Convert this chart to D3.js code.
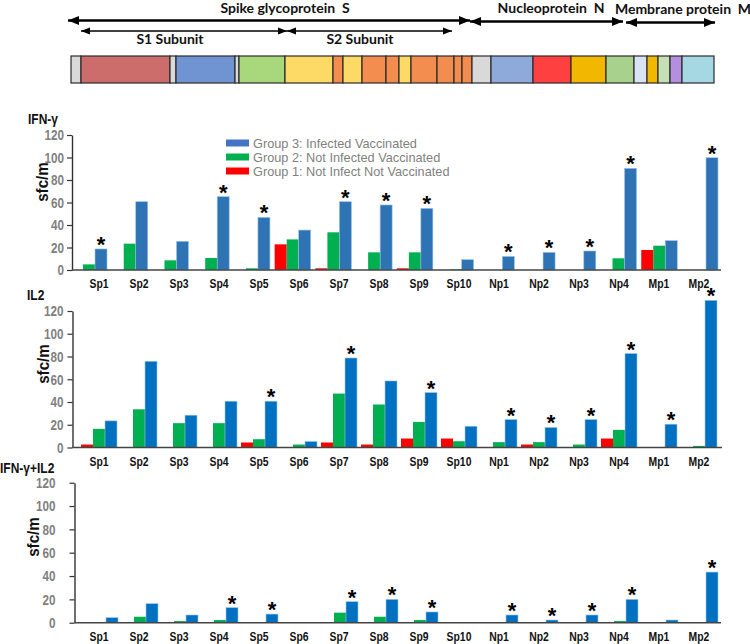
<!DOCTYPE html>
<html>
<head>
<meta charset="utf-8">
<script src="https://cdn.jsdelivr.net/npm/d3@7"></script>
<style>
  html, body { margin: 0; padding: 0; background: #fff; }
  svg { display: block; }
  text { white-space: pre; }
</style>
</head>
<body>
<svg id="chart" width="750" height="644"></svg>
<script>
// ---------------- DATA ----------------
const categories = ["Sp1","Sp2","Sp3","Sp4","Sp5","Sp6","Sp7","Sp8","Sp9","Sp10","Np1","Np2","Np3","Np4","Mp1","Mp2"];
const groupNames = ["Group 1: Not Infect Not Vaccinated","Group 2: Not Infected Vaccinated","Group 3: Infected Vaccinated"];
const yTicks = [0, 20, 40, 60, 80, 100, 120];

// IFN-γ (sfc/m)
const ifnG1 = [0, 0, 0, 0, 0, 22.8, 1.5, 0, 1.5, 0, 0, 0, 0, 0, 17.8, 0];
const ifnG2 = [5, 23.4, 8.6, 10.7, 1.5, 27.2, 33.5, 15.7, 15.7, 0.6, 0, 0, 0, 10.4, 21.6, 0];
const ifnG3 = [18.7, 60.7, 25.5, 65.2, 46.8, 35.5, 60.7, 57.8, 54.8, 9.2, 12.1, 15.7, 16.9, 90.4, 26.1, 99.8];
const ifnStar = [1, 0, 0, 1, 1, 0, 1, 1, 1, 0, 1, 1, 1, 1, 0, 1];

// IL2 (sfc/m)
const il2G1 = [2.6, 0, 0, 0, 4.4, 0, 4.4, 2.6, 7.9, 7.9, 0, 2.6, 0, 7.9, 0, 0];
const il2G2 = [16.4, 33.6, 21.4, 21.4, 7.3, 2.6, 47.4, 37.8, 22.5, 5.5, 4.7, 4.7, 2.6, 15.5, 0, 1.4];
const il2G3 = [23.4, 75.8, 28.4, 40.7, 40.7, 5.3, 78.7, 58.5, 48.3, 18.7, 24.6, 17.6, 24.6, 82.6, 20.5, 129.4];
const il2Star = [0, 0, 0, 0, 1, 0, 1, 0, 1, 0, 1, 1, 1, 1, 1, 1];

// IFN-γ + IL2 (sfc/m)
const bothG1 = [0, 0, 0, 0, 0, 0, 0, 0, 0, 0, 0, 0, 0, 0, 0, 0];
const bothG2 = [0, 5.1, 1.4, 2.3, 0, 0, 8.6, 5.1, 2.3, 0, 0, 0, 0, 1.4, 0, 0];
const bothG3 = [4.3, 16.3, 6.6, 12.9, 7.4, 0, 18, 20, 9.2, 0, 6.6, 2.3, 6.6, 20, 2.3, 43.4];
const bothStar = [0, 0, 0, 1, 1, 0, 1, 1, 1, 0, 1, 1, 1, 1, 0, 1];

// Genome map (segment lengths in map units)
const segLengths = [10, 89, 6, 59, 4, 46, 48, 10, 19, 24, 13, 12, 26, 17, 8, 10, 19, 42, 38, 35, 28, 13, 11, 12, 12, 32];
const segColors  = ["#d9d9d9","#cc6d6b","#d9d9d9","#7094d2","#d9d9d9","#a9d77c","#fdd966","#f38d4f","#fdd966","#f38d4f","#f38d4f","#fdd966","#f38d4f","#f38d4f","#f38d4f","#f38d4f","#d9d9d9","#8eaadb","#ff4040","#f2b800","#a9d18e","#dae3f3","#f2b800","#c5e0b4","#b48fe0","#a5d8e2"];
// Region arrows in map units [start, end]
const regionNames = ["Spike glycoprotein  S", "S1 Subunit", "S2 Subunit", "Nucleoprotein  N", "Membrane protein  M"];
const regionStart = [-3, 10, 216, 399, 555];
const regionEnd   = [399, 216, 381, 552, 644];

// ---------------- DRAW ----------------
const svg = d3.select("#chart");
const sans = "'Liberation Sans', Arial, sans-serif";
const colors = ["#ff0000", "#00b050", "#2e75b6"];

// place a horizontally condensed text
function squeezed(sel, x, y, sx) {
  return sel.attr("x", 0).attr("y", 0)
    .attr("transform", `translate(${x},${y}) scale(${sx},1)`);
}

// defs: arrow heads
const defs = svg.append("defs");
function marker(id, orient, size) {
  defs.append("marker")
    .attr("id", id).attr("viewBox", "0 0 10 10")
    .attr("refX", 10).attr("refY", 5)
    .attr("markerWidth", size).attr("markerHeight", size)
    .attr("markerUnits", "userSpaceOnUse")
    .attr("orient", orient)
    .append("path").attr("d", "M0,1 L10,5 L0,9 Z").attr("fill", "#000");
}
marker("arrowEndBig", "auto", 11);
marker("arrowStartBig", "auto-start-reverse", 11);
marker("arrowEndSm", "auto", 9);
marker("arrowStartSm", "auto-start-reverse", 9);

// ---- Genome map ----
const total = d3.sum(segLengths);
const mapX = d3.scaleLinear().domain([0, total]).range([71, 714]);
const cum = d3.cumsum(segLengths);
const segStarts = segLengths.map((d, i) => cum[i] - d);
svg.append("g").selectAll("rect").data(segLengths).join("rect")
  .attr("x", (d, i) => mapX(segStarts[i]))
  .attr("y", 56)
  .attr("width", d => mapX(d) - mapX(0))
  .attr("height", 27)
  .attr("fill", (d, i) => segColors[i])
  .attr("stroke", "#2b2b2b").attr("stroke-width", 1.2);

const regionY = [20.5, 31, 31, 21.5, 22.5];
const regionTextY = [13, 44, 44, 13, 13.5];
const regionBig = [true, false, false, true, true];
const gReg = svg.append("g");
regionNames.forEach((name, i) => {
  const x0 = mapX(regionStart[i]), x1 = mapX(regionEnd[i]);
  gReg.append("line")
    .attr("x1", x0).attr("x2", x1).attr("y1", regionY[i]).attr("y2", regionY[i])
    .attr("stroke", "#000").attr("stroke-width", regionBig[i] ? 2.6 : 1.4)
    .attr("marker-start", regionBig[i] ? "url(#arrowStartBig)" : "url(#arrowStartSm)")
    .attr("marker-end", regionBig[i] ? "url(#arrowEndBig)" : "url(#arrowEndSm)");
});
const textX = [285, 170, 360, 551, 683];
gReg.selectAll("text").data(regionNames).join("text")
  .attr("x", (d, i) => textX[i])
  .attr("y", (d, i) => regionTextY[i])
  .attr("text-anchor", "middle")
  .attr("font-family", "Lato, 'Open Sans', sans-serif")
  .attr("font-weight", "bold")
  .attr("font-size", 14)
  .attr("fill", "#111")
  .text(d => d);

// ---- Bar panels ----
const panels = [
  { title: "IFN-γ", g: [ifnG1, ifnG2, ifnG3], star: ifnStar, y0: 270, y1: 135, axisX: 72, barRange: [71, 718], baseEnd: 721,
    titleX: 28, titleY: 124, sfcX: 42, sfcY: 182, labelY: 288, tickPad: 3, blue: "#2e74b5" },
  { title: "IL2", g: [il2G1, il2G2, il2G3], star: il2Star, y0: 447.5, y1: 311, axisX: 72.5, barRange: [81, 717], baseEnd: 722,
    titleX: 27, titleY: 300, sfcX: 43, sfcY: 364, labelY: 466, tickPad: 4, blue: "#0070c0" },
  { title: "IFN-γ+IL2", g: [bothG1, bothG2, bothG3], star: bothStar, y0: 622.7, y1: 482.7, axisX: 74.5, barRange: [82, 718], baseEnd: 721,
    titleX: 0, titleY: 473, sfcX: 33, sfcY: 537, labelY: 641, tickPad: 14, blue: "#0070c0" }
];

const labelScale = d3.scaleBand().domain(categories).range([81, 717]).paddingInner(0.1).paddingOuter(0);
const tickSx = 0.78;

panels.forEach((p, pi) => {
  const g = svg.append("g");
  const y = d3.scaleLinear().domain([0, 120]).range([p.y0, p.y1]);
  const x = d3.scaleBand().domain(categories).range(p.barRange)
    .paddingInner(pi === 0 ? 0.116 : 0.1).paddingOuter(0);
  const xs = d3.scaleBand().domain([0, 1, 2]).range([0, x.bandwidth()]).padding(0);
  const cols = [colors[0], colors[1], p.blue];

  // bars
  [0, 1, 2].forEach(k => {
    g.append("g").selectAll("rect").data(p.g[k]).join("rect")
      .attr("x", (d, i) => x(categories[i]) + xs(k))
      .attr("y", d => y(d))
      .attr("width", xs.bandwidth())
      .attr("height", d => p.y0 - y(d))
      .attr("fill", cols[k])
      .attr("stroke", k === 2 ? "#9dc3e6" : "none")
      .attr("stroke-width", k === 2 ? 0.6 : 0);
  });

  // y axis
  const tickSize = 5;
  const ax = g.append("g").attr("transform", `translate(${p.axisX},0)`)
    .call(d3.axisLeft(y).tickValues(yTicks).tickSize(tickSize).tickSizeOuter(0).tickPadding(p.tickPad));
  ax.select(".domain").attr("stroke", "#333").attr("stroke-width", 1.4);
  ax.selectAll(".tick line").attr("stroke", "#333").attr("stroke-width", 1.2);
  ax.selectAll(".tick text")
    .attr("font-family", sans).attr("font-weight", "bold").attr("font-size", 15)
    .attr("fill", "#808080")
    .attr("x", -(tickSize + p.tickPad) / tickSx)
    .attr("transform", `scale(${tickSx},1)`);

  // baseline
  g.append("line").attr("x1", p.axisX).attr("x2", p.baseEnd)
    .attr("y1", p.y0).attr("y2", p.y0).attr("stroke", "#444").attr("stroke-width", 1.6);

  // stars
  g.append("g").selectAll("text")
    .data(categories.map((c, i) => ({ c, i })).filter(d => p.star[d.i] === 1))
    .join("text")
    .attr("x", d => x(d.c) + xs(2) + xs.bandwidth() / 2)
    .attr("y", d => y(p.g[2][d.i]) + 3)
    .attr("text-anchor", "middle")
    .attr("font-family", sans)
    .attr("font-weight", "bold")
    .attr("font-size", 22)
    .attr("fill", "#000")
    .text("*");

  // category labels
  g.append("g").selectAll("text").data(categories).join("text")
    .each(function(d) {
      squeezed(d3.select(this), labelScale(d) + labelScale.bandwidth() / 2, p.labelY, 0.8);
    })
    .attr("text-anchor", "middle")
    .attr("font-family", sans).attr("font-weight", "bold").attr("font-size", 13)
    .attr("fill", "#111")
    .text(d => d);

  // title
  squeezed(g.append("text"), p.titleX, p.titleY, 0.8)
    .attr("font-family", sans).attr("font-weight", "bold").attr("font-size", 15)
    .attr("fill", "#111").text(p.title);

  // sfc/m
  g.append("text")
    .attr("transform", `translate(${p.sfcX + 6},${p.sfcY}) rotate(-90) scale(0.95,1)`)
    .attr("text-anchor", "middle")
    .attr("font-family", sans).attr("font-weight", "bold").attr("font-size", 16)
    .attr("fill", "#111").text("sfc/m");
});

// ---- Legend ----
const legendOrder = [2, 1, 0];
const legendBlue = "#4472c4";
const leg = svg.append("g");
legendOrder.forEach((k, j) => {
  const yy = [139.5, 153.5, 167.5][j];
  leg.append("rect").attr("x", 226).attr("y", yy).attr("width", 23).attr("height", 7)
    .attr("fill", k === 2 ? legendBlue : colors[k]);
  squeezed(leg.append("text"), 253, yy + 8, 0.98)
    .attr("font-family", sans).attr("font-size", 13).attr("fill", "#7f7f7f")
    .text(groupNames[k]);
});
</script>
</body>
</html>
